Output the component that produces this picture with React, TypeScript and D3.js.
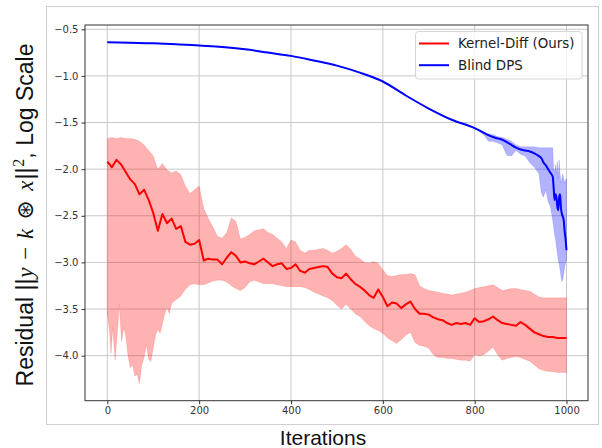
import React, { useEffect, useRef } from "react";
import * as d3 from "d3";

// iterations for the Kernel-Diff mean / upper curves (every 10 steps)
const redIters = d3.range(0, 1001, 10);

const redMean = [
  -1.92, -1.98, -1.9, -1.95, -2.03, -2.11, -2.16, -2.27, -2.22, -2.33,
  -2.47, -2.66, -2.48, -2.58, -2.53, -2.64, -2.61, -2.78, -2.81, -2.8,
  -2.76, -2.98, -2.96, -2.97, -2.97, -3.02, -2.95, -2.89, -2.93, -3.0,
  -2.99, -3.01, -3.02, -2.99, -2.96, -3.0, -3.04, -3.02, -3.01, -3.07,
  -3.06, -3.02, -3.09, -3.11, -3.07, -3.06, -3.05, -3.04, -3.05, -3.12,
  -3.16, -3.17, -3.12, -3.18, -3.23, -3.26, -3.3, -3.35, -3.38, -3.29,
  -3.37, -3.47, -3.43, -3.44, -3.49, -3.45, -3.42, -3.5, -3.55, -3.55,
  -3.56, -3.59, -3.61, -3.62, -3.65, -3.67, -3.65, -3.66, -3.65, -3.67,
  -3.6, -3.64, -3.63, -3.61, -3.58, -3.62, -3.65, -3.66, -3.67, -3.68,
  -3.64, -3.67, -3.71, -3.75, -3.77, -3.79, -3.8, -3.8, -3.81, -3.81,
  -3.81,
];

const redUpper = [
  -1.67, -1.66, -1.67, -1.66, -1.67, -1.67, -1.68, -1.7, -1.74, -1.8,
  -1.86, -2.0, -1.94, -2.01, -2.04, -2.02, -2.06, -2.18, -2.26, -2.22,
  -2.18, -2.42, -2.53, -2.62, -2.72, -2.74, -2.68, -2.52, -2.56, -2.75,
  -2.73, -2.7, -2.66, -2.65, -2.64, -2.68, -2.7, -2.74, -2.78, -2.85,
  -2.76, -2.78, -2.87, -2.9, -2.87, -2.87, -2.86, -2.85, -2.87, -2.9,
  -2.88, -2.85, -2.81, -2.86, -2.93, -2.96, -3.0, -3.01, -2.99, -3.01,
  -3.08, -3.14, -3.15, -3.14, -3.13, -3.13, -3.12, -3.13, -3.25, -3.28,
  -3.3, -3.31, -3.32, -3.33, -3.34, -3.35, -3.34, -3.33, -3.32, -3.3,
  -3.28, -3.27, -3.26, -3.25, -3.24, -3.27, -3.3, -3.29, -3.28, -3.28,
  -3.29, -3.3, -3.31, -3.34, -3.37, -3.38, -3.38, -3.38, -3.38, -3.38,
  -3.38,
];

// lower edge is spikier early on, so it has its own iterations
const redLowerIters = [
  0, 5, 8, 12, 17, 22, 26, 31, 36, 40, 45, 50, 55, 60, 65, 70, 75, 80, 85, 90,
  95, 100, 105, 110, 115, 120, 125, 130, 135, 140, 145, 150, 160, 170, 180, 190,
  200, 210, 220, 230, 240, 250, 260, 270, 280, 290, 300, 310, 320, 330, 340, 350,
  360, 370, 380, 390, 400, 410, 420, 430, 440, 450, 460, 470, 480, 490, 500, 510,
  520, 530, 540, 550, 560, 570, 580, 590, 600, 610, 620, 630, 640, 650, 660, 670,
  680, 690, 700, 710, 720, 730, 740, 750, 760, 770, 780, 790, 800, 810, 820, 830,
  840, 850, 860, 870, 880, 890, 900, 910, 920, 930, 940, 950, 960, 970, 980, 990,
  1000,
];
const redLower = [
  -3.55, -3.75, -3.98, -3.7, -4.05, -3.75, -3.45, -3.85, -3.7, -3.78, -4.0, -4.13,
  -4.1, -4.22, -4.2, -4.3, -4.1, -4.02, -3.88, -4.04, -4.06, -3.92, -3.78, -3.72,
  -3.76, -3.66, -3.55, -3.48, -3.55, -3.44, -3.42, -3.4, -3.36, -3.29, -3.24,
  -3.23, -3.24, -3.24, -3.22, -3.2, -3.19, -3.19, -3.21, -3.25, -3.28, -3.3,
  -3.27, -3.21, -3.19, -3.21, -3.23, -3.23, -3.23, -3.24, -3.25, -3.26, -3.26,
  -3.26, -3.26, -3.27, -3.29, -3.32, -3.34, -3.36, -3.38, -3.41, -3.46, -3.5,
  -3.45, -3.5, -3.55, -3.58, -3.63, -3.68, -3.71, -3.73, -3.76, -3.81, -3.84,
  -3.87, -3.83, -3.78, -3.75, -3.86, -3.89, -3.9, -3.92, -3.99, -4.02, -4.02,
  -4.03, -4.03, -4.04, -4.05, -4.05, -4.06, -3.99, -4.0, -3.99, -3.95, -3.91,
  -3.99, -4.05, -4.03, -4.02, -4.01, -4.02, -4.04, -4.06, -4.1, -4.14, -4.16,
  -4.17, -4.17, -4.18, -4.18, -4.18,
];

// Blind DPS
const blueIters = [
  0, 50, 100, 150, 200, 250, 300, 350, 400, 450, 500, 550, 600, 650, 700, 750,
  800, 820, 830, 840, 850, 860, 870, 880, 890, 900, 910, 920, 930, 940, 945, 950,
  955, 960, 965, 970, 972, 974, 976, 978, 980, 982, 984, 986, 988, 990, 992, 994,
  996, 998, 1000,
];
const blueMean = [
  -0.64, -0.645, -0.65, -0.66, -0.675, -0.69, -0.715, -0.75, -0.785, -0.835,
  -0.89, -0.965, -1.06, -1.21, -1.35, -1.47, -1.56, -1.61, -1.635, -1.655,
  -1.67, -1.685, -1.71, -1.74, -1.77, -1.79, -1.8, -1.81, -1.83, -1.86, -1.88,
  -1.93, -1.96, -2.0, -2.04, -2.08, -2.2, -2.33, -2.27, -2.3, -2.4, -2.44, -2.3,
  -2.27, -2.42, -2.48, -2.51, -2.55, -2.67, -2.75, -2.87,
];
const blueUpper = [
  -0.64, -0.645, -0.65, -0.66, -0.675, -0.69, -0.715, -0.75, -0.785, -0.835,
  -0.89, -0.965, -1.06, -1.21, -1.35, -1.47, -1.56, -1.605, -1.62, -1.63,
  -1.65, -1.66, -1.68, -1.7, -1.74, -1.76, -1.76, -1.76, -1.76, -1.77, -1.77,
  -1.77, -1.77, -1.77, -1.77, -1.77, -2.0, -2.02, -1.95, -2.05, -1.92, -2.1,
  -1.9, -2.05, -2.15, -2.1, -2.05, -2.1, -2.15, -2.12, -2.1,
];
const blueLower = [
  -0.64, -0.645, -0.65, -0.66, -0.675, -0.69, -0.715, -0.75, -0.785, -0.835,
  -0.89, -0.965, -1.06, -1.21, -1.35, -1.47, -1.56, -1.63, -1.7, -1.7, -1.72,
  -1.74, -1.85, -1.86, -1.8, -1.84, -1.86, -1.93, -1.98, -2.05, -2.25, -2.3,
  -2.22, -2.35, -2.4, -2.55, -2.62, -2.7, -2.75, -2.83, -2.9, -2.98, -3.02,
  -3.08, -3.15, -3.21, -3.18, -3.12, -3.05, -3.0, -2.98,
];

const xTicks = [0, 200, 400, 600, 800, 1000];
const yTicks = [-4.0, -3.5, -3.0, -2.5, -2.0, -1.5, -1.0, -0.5];
const legendItems = [
  { label: "Kernel-Diff (Ours)", color: "red" },
  { label: "Blind DPS", color: "blue" },
];

export default function App() {
  const ref = useRef<SVGSVGElement>(null);
  const width = 602;
  const height = 448;
  const margin = { top: 25, right: 14, bottom: 47.3, left: 85 };

  useEffect(() => {
    const svg = d3.select(ref.current);
    svg.selectAll("*").remove();

    const x = d3
      .scaleLinear()
      .domain([-48.6, 1046.8])
      .range([margin.left, width - margin.right]);
    const y = d3
      .scaleLinear()
      .domain([-4.483, -0.454])
      .range([height - margin.bottom, margin.top]);

    // figure border
    svg
      .append("rect")
      .attr("x", 46.5)
      .attr("y", 6.5)
      .attr("width", 552)
      .attr("height", 418)
      .attr("fill", "white")
      .attr("stroke", "#d0d0d0");

    // grid
    const grid = svg.append("g").attr("stroke", "#c8c8c8").attr("stroke-width", 1);
    xTicks.forEach((t) =>
      grid
        .append("line")
        .attr("x1", x(t))
        .attr("x2", x(t))
        .attr("y1", margin.top)
        .attr("y2", height - margin.bottom)
    );
    yTicks.forEach((t) =>
      grid
        .append("line")
        .attr("x1", margin.left)
        .attr("x2", width - margin.right)
        .attr("y1", y(t))
        .attr("y2", y(t))
    );

    const line = d3
      .line<[number, number]>()
      .x((d) => x(d[0]))
      .y((d) => y(d[1]));

    const band = (
      upIt: number[],
      up: number[],
      loIt: number[],
      lo: number[]
    ) => {
      const top = upIt.map((it, i) => [it, up[i]] as [number, number]);
      const bot = loIt.map((it, i) => [it, lo[i]] as [number, number]).reverse();
      return line(top.concat(bot)) + "Z";
    };

    svg
      .append("path")
      .attr("d", band(redIters, redUpper, redLowerIters, redLower))
      .attr("fill", "red")
      .attr("fill-opacity", 0.3)
      .attr("stroke", "red")
      .attr("stroke-opacity", 0.12)
      .attr("stroke-width", 1);

    svg
      .append("path")
      .attr("d", band(blueIters, blueUpper, blueIters, blueLower))
      .attr("fill", "blue")
      .attr("fill-opacity", 0.3)
      .attr("stroke", "blue")
      .attr("stroke-opacity", 0.12)
      .attr("stroke-width", 1);

    svg
      .append("path")
      .attr("d", line(redIters.map((it, i) => [it, redMean[i]] as [number, number])))
      .attr("fill", "none")
      .attr("stroke", "red")
      .attr("stroke-width", 2)
      .attr("stroke-linejoin", "round");

    const smooth = d3
      .line<[number, number]>()
      .curve(d3.curveMonotoneX)
      .x((d) => x(d[0]))
      .y((d) => y(d[1]));
    svg
      .append("path")
      .attr("d", smooth(blueIters.map((it, i) => [it, blueMean[i]] as [number, number])))
      .attr("fill", "none")
      .attr("stroke", "blue")
      .attr("stroke-width", 2)
      .attr("stroke-linejoin", "round");

    // axes
    const xAxis = svg
      .append("g")
      .attr("transform", `translate(0,${height - margin.bottom})`)
      .call(d3.axisBottom(x).tickValues(xTicks).tickSize(3.5).tickSizeOuter(0).tickFormat(d3.format("d")));
    const yAxis = svg
      .append("g")
      .attr("transform", `translate(${margin.left},0)`)
      .call(
        d3
          .axisLeft(y)
          .tickValues(yTicks)
          .tickSize(3.5)
          .tickSizeOuter(0)
          .tickFormat((d) => d3.format(".1f")(d as number).replace("-", "\u2212"))
      );
    [xAxis, yAxis].forEach((g) => {
      g.select(".domain").remove();
      g.selectAll("line").attr("stroke", "#333");
      g.selectAll("text")
        .attr("fill", "#333")
        .attr("font-size", 10)
        .attr("font-family", "DejaVu Sans");
    });

    // frame
    svg
      .append("rect")
      .attr("x", margin.left)
      .attr("y", margin.top)
      .attr("width", width - margin.left - margin.right)
      .attr("height", height - margin.top - margin.bottom)
      .attr("fill", "none")
      .attr("stroke", "#333")
      .attr("stroke-width", 1);

    // legend
    const lg = svg.append("g").attr("transform", "translate(415.5,31.5)");
    lg.append("rect")
      .attr("width", 166.5)
      .attr("height", 47.5)
      .attr("rx", 3)
      .attr("fill", "white")
      .attr("fill-opacity", 0.8)
      .attr("stroke", "#d6d6d6");
    legendItems.forEach((item, i) => {
      const yy = 12 + i * 21.7;
      lg.append("line")
        .attr("x1", 3.5)
        .attr("x2", 33.5)
        .attr("y1", yy)
        .attr("y2", yy)
        .attr("stroke", item.color)
        .attr("stroke-width", 2);
      lg.append("text")
        .attr("x", 42.5)
        .attr("y", yy)
        .attr("dy", "0.36em")
        .attr("font-family", "DejaVu Sans")
        .attr("font-size", 13.4)
        .attr("fill", "#222")
        .text(item.label);
    });

    // axis labels
    svg
      .append("text")
      .attr("x", 323)
      .attr("y", 445)
      .attr("text-anchor", "middle")
      .attr("font-family", "Liberation Sans, Arial")
      .attr("font-size", 21)
      .attr("fill", "#111")
      .text("Iterations");

    const yl = svg
      .append("text")
      .attr("transform", "translate(33,215) rotate(-90)")
      .attr("text-anchor", "middle")
      .attr("font-family", "Liberation Sans, Arial")
      .attr("font-size", 23)
      .attr("fill", "#111");
    const mathFont = "Liberation Serif, DejaVu Serif";
    yl.append("tspan").text("Residual ||");
    yl.append("tspan").attr("font-family", mathFont).attr("font-style", "italic").attr("dx", 1).text("y");
    yl.append("tspan").attr("font-family", mathFont).attr("dx", 2).text(" \u2212 ");
    yl.append("tspan").attr("font-family", mathFont).attr("font-style", "italic").attr("dx", 2).text("k");
    yl.append("tspan").attr("font-family", "DejaVu Sans").attr("dx", 2).text(" \u229b ");
    yl.append("tspan").attr("font-family", mathFont).attr("font-style", "italic").attr("dx", 2).text("x");
    yl.append("tspan").attr("dx", 1).text("||");
    yl.append("tspan").attr("font-family", mathFont).attr("font-size", 16).attr("dx", 1).attr("dy", -9).text("2");
    yl.append("tspan").attr("dy", 9).text(", Log Scale");
  }, []);

  return (
    <svg
      ref={ref}
      width={width}
      height={height}
      style={{ position: "absolute", left: 0, top: 0, background: "white" }}
    />
  );
}
